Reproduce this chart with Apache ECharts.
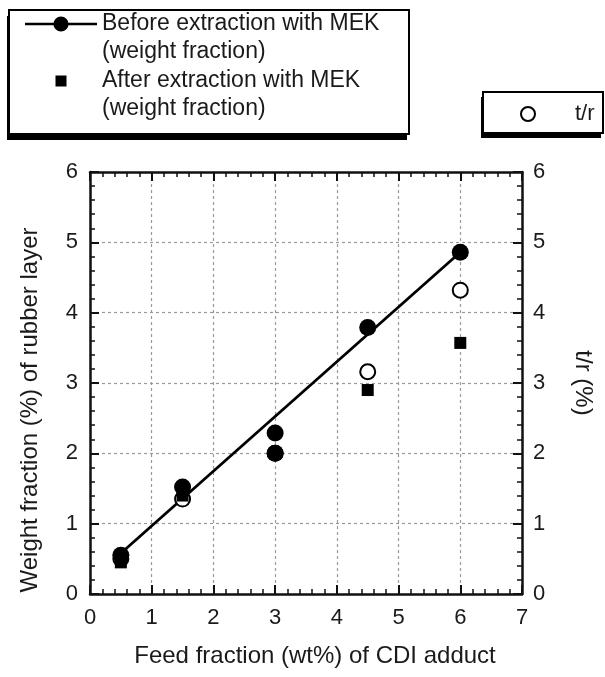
<!DOCTYPE html>
<html>
<head>
<meta charset="utf-8">
<script src="https://cdn.jsdelivr.net/npm/echarts@6/dist/echarts.min.js"></script>
<style>html,body{margin:0;padding:0;background:#fff;}#c{width:605px;height:677px;}</style>
</head>
<body>
<div id="c"></div>
<script>
// ---- data ----
const beforeName = 'Before extraction with MEK\n(weight fraction)';
const afterName = 'After extraction with MEK\n(weight fraction)';
const trName = 't/r';
const xTicks = [0, 1, 2, 3, 4, 5, 6, 7];
const yTicks = [0, 1, 2, 3, 4, 5, 6];
const beforeX = [0.5, 1.5, 3, 3, 4.5, 6];
const beforeY = [0.55, 1.52, 2.29, 2.0, 3.79, 4.86];
const afterX = [0.5, 1.5, 3, 4.5, 6];
const afterY = [0.45, 1.40, 2.0, 2.90, 3.57];
const trX = [0.5, 1.5, 3, 4.5, 6];
const trY = [0.50, 1.35, 2.0, 3.16, 4.32];
const fitX = [0.5, 6];
const fitY = [0.58, 4.86];

const zip = (a, b) => a.map((v, i) => [v, b[i]]);
const FONT = 'Liberation Sans, Arial, Helvetica, sans-serif';
const TXT = '#1a1a1a';

const chart = echarts.init(document.getElementById('c'), null, {renderer: 'canvas'});

const axisCommon = {
  type: 'value',
  axisLine: {show: true, onZero: false, lineStyle: {color: '#111', width: 2.5}},
  axisTick: {show: true, inside: true, length: 9, lineStyle: {color: '#111', width: 2}},
  minorTick: {show: true, splitNumber: 5, length: 5, lineStyle: {color: '#111', width: 1.5}},
  axisLabel: {fontFamily: FONT, fontSize: 22, color: TXT},
  nameTextStyle: {fontFamily: FONT, fontSize: 24, color: TXT},
  splitLine: {show: false}
};
const gridSplit = {show: true, lineStyle: {color: '#9a9a9a', width: 1.2, type: [3, 3]}};

// legend frame decoration (box + drop shadow)
const frames = [
  {type: 'rect', z: 1, shape: {x: 7, y: 16, width: 400, height: 124}, style: {fill: '#000'}},
  {type: 'rect', z: 2, shape: {x: 9, y: 10, width: 400, height: 124}, style: {fill: '#fff', stroke: '#000', lineWidth: 2}},
  {type: 'rect', z: 1, shape: {x: 481, y: 97, width: 120, height: 41}, style: {fill: '#000'}},
  {type: 'rect', z: 2, shape: {x: 483, y: 92, width: 120, height: 41}, style: {fill: '#fff', stroke: '#000', lineWidth: 2}}
];
// legend icons: symbol in the upper part so it lines up with the first text line
const iconBefore = 'path://M0,0h0.01v0.01zM0,8.2h72v2.6h-72zM28.4,9.5a7.6,7.6 0 1,1 15.2,0a7.6,7.6 0 1,1 -15.2,0zM71.99,46.99h0.01v0.01z';
const iconAfter = 'path://M0,0h0.01v0.01zM30.5,4h11v11h-11zM71.99,46.99h0.01v0.01z';

const option = {
  backgroundColor: '#fff',
  animation: false,
  graphic: {elements: frames},
  grid: {left: 90, right: 83, top: 172, bottom: 83, containLabel: false},
  legend: [
    {
      data: [
        {name: beforeName, icon: iconBefore, itemStyle: {borderWidth: 0}},
        {name: afterName, icon: iconAfter, itemStyle: {borderWidth: 0}}
      ],
      orient: 'vertical', left: 25, top: 10, z: 10,
      itemWidth: 72, itemHeight: 47, itemGap: 1,
      padding: 0,
      textStyle: {fontFamily: FONT, fontSize: 23, color: TXT, lineHeight: 28},
      selectedMode: false
    },
    {
      data: [{name: trName}],
      orient: 'horizontal', left: 520, top: 103, z: 10,
      itemWidth: 14, itemHeight: 14,
      padding: 0,
      textStyle: {fontFamily: FONT, fontSize: 22, color: TXT, padding: [0, 0, 0, 35]},
      selectedMode: false
    }
  ],
  xAxis: [
    Object.assign({}, axisCommon, {
      position: 'bottom', min: xTicks[0], max: xTicks[xTicks.length - 1], interval: 1,
      axisLabel: Object.assign({}, axisCommon.axisLabel, {margin: 13}),
      name: 'Feed fraction (wt%) of CDI adduct', nameLocation: 'middle', nameGap: 50,
      nameTextStyle: Object.assign({}, axisCommon.nameTextStyle, {padding: [0, 0, 0, 18]}),
      splitLine: gridSplit
    }),
    Object.assign({}, axisCommon, {
      position: 'top', min: xTicks[0], max: xTicks[xTicks.length - 1], interval: 1,
      axisLabel: {show: false}
    })
  ],
  yAxis: [
    Object.assign({}, axisCommon, {
      position: 'left', min: yTicks[0], max: yTicks[yTicks.length - 1], interval: 1,
      axisLabel: Object.assign({}, axisCommon.axisLabel, {margin: 12}),
      name: 'Weight fraction (%) of rubber layer', nameLocation: 'middle', nameGap: 48,
      nameTextStyle: Object.assign({}, axisCommon.nameTextStyle, {padding: [0, 54, 0, 0]}),
      splitLine: gridSplit
    }),
    Object.assign({}, axisCommon, {
      position: 'right', min: yTicks[0], max: yTicks[yTicks.length - 1], interval: 1,
      axisLabel: Object.assign({}, axisCommon.axisLabel, {margin: 11}),
      name: 't/r (%)', nameLocation: 'middle', nameGap: 49, nameRotate: -90
    })
  ],
  series: [
    {
      name: beforeName, type: 'line', data: zip(fitX, fitY),
      symbol: 'circle', showSymbol: false, symbolSize: 16,
      lineStyle: {color: '#000', width: 2.8}, itemStyle: {color: '#000'}, z: 2
    },
    {
      name: trName, type: 'scatter', yAxisIndex: 1, data: zip(trX, trY),
      symbol: 'circle', symbolSize: 15,
      itemStyle: {color: '#fff', borderColor: '#000', borderWidth: 2, opacity: 1}, z: 3
    },
    {
      name: afterName, type: 'scatter', data: zip(afterX, afterY),
      symbol: 'rect', symbolSize: 12,
      itemStyle: {color: '#000', opacity: 1}, z: 4
    },
    {
      name: beforeName, type: 'scatter', data: zip(beforeX, beforeY),
      symbol: 'circle', symbolSize: 17,
      itemStyle: {color: '#000', opacity: 1}, z: 5
    }
  ]
};
chart.setOption(option);
</script>
</body>
</html>
